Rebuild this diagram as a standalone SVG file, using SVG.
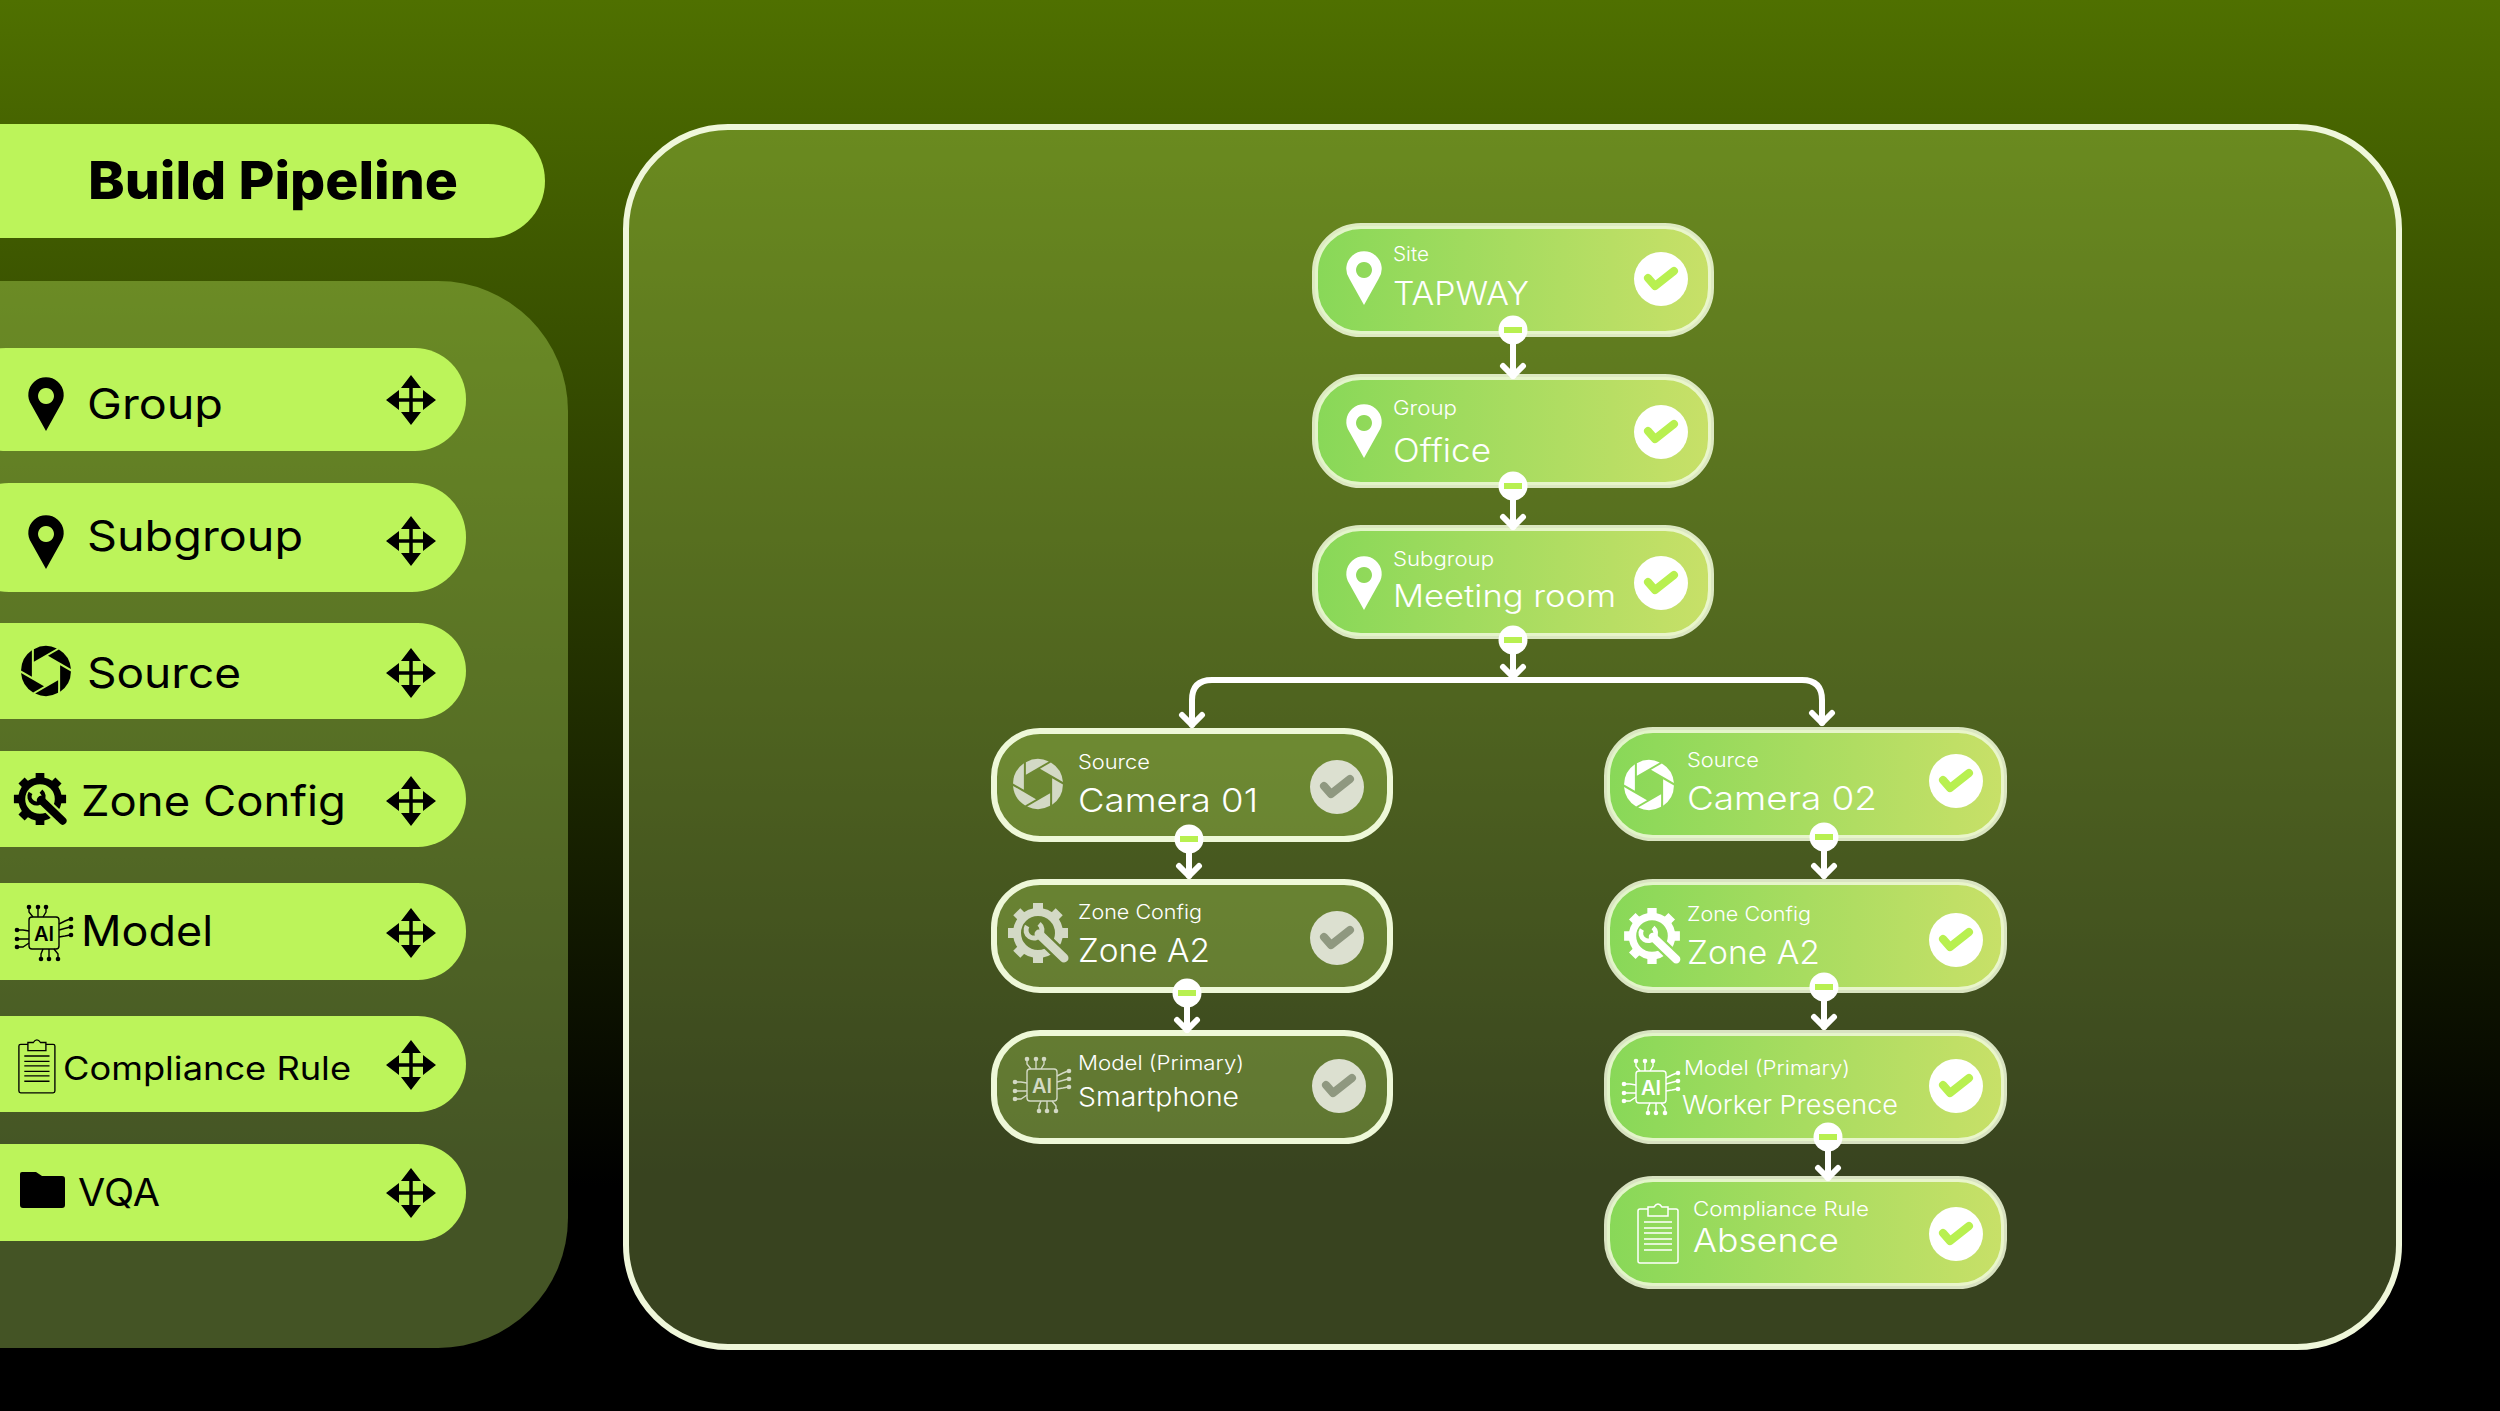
<svg xmlns="http://www.w3.org/2000/svg" width="2500" height="1411" viewBox="0 0 2500 1411">
<style>
text{font-family:Inter,"Liberation Sans",sans-serif;font-weight:300;fill:#fff}
.side{fill:#000;font-weight:400}
.pill{fill:#bcf45a}
.node{stroke:#eef8d8;stroke-width:6}
.on{fill:url(#nodeG);stroke-opacity:.88}
.off{fill:#b8e860;fill-opacity:.3}
.blk{color:#000}
.wht{color:#fff}
.dim{color:#d3d9c5}
.tick{fill:#fff}
.tickoff{fill:#dce0d0}
.chk{fill:none;stroke:#b8f050;stroke-width:8;stroke-linecap:round;stroke-linejoin:round}
.chkoff{fill:none;stroke:#8f9880;stroke-width:8;stroke-linecap:round;stroke-linejoin:round}
.wire{fill:none;stroke:#fff;stroke-width:6;stroke-linecap:round;stroke-linejoin:round;marker-end:url(#arrow)}
.dot{fill:#fff}
.minus{fill:#b8f050}
.ai{font-weight:600;font-size:20px;text-anchor:middle}
</style>
<defs>
<linearGradient id="bg" x1="0" y1="0" x2="0" y2="1"><stop offset="0" stop-color="#4f7000"/><stop offset=".84" stop-color="#000"/></linearGradient>
<linearGradient id="nodeG" x1="0" y1="0" x2="1" y2="0"><stop offset="0" stop-color="#88d858"/><stop offset="1" stop-color="#c8e068"/></linearGradient>
<marker id="arrow" markerUnits="userSpaceOnUse" viewBox="-16 -14 22 28" refX="0" refY="0" markerWidth="22" markerHeight="28" orient="auto"><path d="M-10,-10 L0,0 L-10,10" fill="none" stroke="#fff" stroke-width="6" stroke-linecap="round" stroke-linejoin="round"/></marker>
<g id="move"><path d="M0,-20V20M-20,0H20" stroke="#000" stroke-width="3.5" fill="none"/><path d="M0,-25L10,-12H-10ZM0,25L10,12H-10ZM-25,0L-12,-10V10ZM25,0L12,-10V10Z" fill="#000"/></g>
<path id="pin" fill="currentColor" fill-rule="evenodd" d="M0,53L-14.5,27A17.7,17.7 0 1 1 14.5,27ZM0,10a8,8 0 1 0 .01,0Z"/>
<path id="blade" d="M15.15,2L1.9,24.94A25,25 0 0 0 21.4,12.87Z"/>
<g id="aperture" fill="currentColor" transform="rotate(30)">
<use href="#blade"/>
<use href="#blade" transform="rotate(60)"/>
<use href="#blade" transform="rotate(120)"/>
<use href="#blade" transform="rotate(180)"/>
<use href="#blade" transform="rotate(240)"/>
<use href="#blade" transform="rotate(300)"/>
</g>
<mask id="wm" maskUnits="userSpaceOnUse" x="-40" y="-40" width="80" height="80"><rect x="-40" y="-40" width="80" height="80" fill="#fff"/><path d="M1,1L28,27" stroke="#000" stroke-width="14" fill="none"/></mask>
<g id="gear"><g mask="url(#wm)" fill="currentColor"><circle r="21" fill="none" stroke="currentColor" stroke-width="8"/><path d="M-5,-30H5V-22H-5ZM-5,30H5V22H-5ZM-30,-5V5H-22V-5ZM30,-5V5H22V-5Z"/><path d="M-5,-30H5V-22H-5ZM-5,30H5V22H-5ZM-30,-5V5H-22V-5ZM30,-5V5H22V-5Z" transform="rotate(45)"/></g><path d="M1,1L26,25" stroke="currentColor" stroke-width="9" stroke-linecap="round" fill="none"/><path d="M-10.9,-7A8,8 0 1 0 1.1,-9.1" stroke="currentColor" stroke-width="5" fill="none"/></g>
<g id="chip" fill="none" stroke="currentColor" stroke-width="1.4"><rect x="-15" y="-16" width="30" height="32" rx="3"/><path d="M-15,-25V-21L-11,-16M-6,-25V-16M2,-25V-21L-1,-16M-3,25V21L-1,16M5,25V16M14,25V21L10,16M-26,-3H-21L-15,-2M-26,6H-15M-26,14H-21L-15,10M26,-14L21,-12L15,-9M26,-6L15,-3M26,2L21,3L15,4"/><g fill="currentColor" stroke="none"><circle cx="-15" cy="-26" r="2.3"/><circle cx="-6" cy="-26" r="2.3"/><circle cx="2" cy="-26" r="2.3"/><circle cx="-3" cy="26" r="2.3"/><circle cx="5" cy="26" r="2.3"/><circle cx="14" cy="26" r="2.3"/><circle cx="-27" cy="-3" r="2.3"/><circle cx="-27" cy="6" r="2.3"/><circle cx="-27" cy="14" r="2.3"/><circle cx="27" cy="-14" r="2.3"/><circle cx="27" cy="-6" r="2.3"/><circle cx="27" cy="2" r="2.3"/></g></g>
<g id="clip" fill="none" stroke="currentColor" stroke-width="1.5"><path d="M11,7H3Q1,7 1,9V59Q1,61 3,61H39Q41,61 41,59V9Q41,7 39,7H31"/><path d="M11,14V5H17Q21,-1 25,5H31V14Z"/><path d="M7,20H35M7,26H35M7,31H35M7,37H35M7,42H35M7,48H35"/></g>
<path id="folder" fill="currentColor" d="M2,0H16L22,4H42Q45,4 45,7V33Q45,36 42,36H3Q0,36 0,33V2Q0,0 2,0Z"/>
</defs>
<rect width="2500" height="1411" fill="url(#bg)"/>
<rect id="sidebar" x="-200" y="281" width="768" height="1067" rx="130" fill="#c4f06a" fill-opacity=".35"/>
<g id="title"><rect class="pill" x="-100" y="124" width="645" height="114" rx="57"/><text x="88" y="199" font-size="52" textLength="370" lengthAdjust="spacingAndGlyphs" style="fill:#000;font-weight:800">Build Pipeline</text></g>
<g id="palette-group"><rect class="pill" x="-45" y="348" width="511" height="103" rx="51"/><use href="#pin" class="blk" x="46" y="378"/><text class="side" x="87" y="419" font-size="42" textLength="136" lengthAdjust="spacingAndGlyphs">Group</text><use href="#move" x="411" y="400"/></g>
<g id="palette-subgroup"><rect class="pill" x="-45" y="483" width="511" height="109" rx="54"/><use href="#pin" class="blk" x="46" y="516"/><text class="side" x="87" y="551" font-size="42" textLength="216" lengthAdjust="spacingAndGlyphs">Subgroup</text><use href="#move" x="411" y="541"/></g>
<g id="palette-source"><rect class="pill" x="-45" y="623" width="511" height="96" rx="48"/><use href="#aperture" class="blk" transform="translate(46 671)"/><text class="side" x="87" y="688" font-size="42" textLength="154" lengthAdjust="spacingAndGlyphs">Source</text><use href="#move" x="411" y="673"/></g>
<g id="palette-zone"><rect class="pill" x="-45" y="751" width="511" height="96" rx="48"/><use href="#gear" class="blk" transform="translate(40 799) scale(.87)"/><text class="side" x="81" y="816" font-size="42" textLength="265" lengthAdjust="spacingAndGlyphs">Zone Config</text><use href="#move" x="411" y="801"/></g>
<g id="palette-model"><rect class="pill" x="-45" y="883" width="511" height="97" rx="48"/><use href="#chip" class="blk" x="44" y="933"/><text class="ai" x="44" y="941" style="fill:#000">AI</text><text class="side" x="81" y="946" font-size="42" textLength="132" lengthAdjust="spacingAndGlyphs">Model</text><use href="#move" x="411" y="933"/></g>
<g id="palette-rule"><rect class="pill" x="-45" y="1016" width="511" height="96" rx="48"/><use href="#clip" class="blk" transform="translate(18 1038) scale(.9)"/><text class="side" x="63" y="1080" font-size="32" textLength="288" lengthAdjust="spacingAndGlyphs">Compliance Rule</text><use href="#move" x="411" y="1065"/></g>
<g id="palette-vqa"><rect class="pill" x="-45" y="1144" width="511" height="97" rx="48"/><use href="#folder" class="blk" x="20" y="1172"/><text class="side" x="78" y="1206" font-size="38" textLength="82" lengthAdjust="spacingAndGlyphs">VQA</text><use href="#move" x="411" y="1193"/></g>
<rect id="canvas" x="626" y="127" width="1773" height="1220" rx="102" fill="#c8ef70" fill-opacity=".28" stroke="#eff7da" stroke-width="6"/>
<g id="n-site"><rect class="node on" x="1315" y="226" width="396" height="108" rx="46"/><use href="#pin" class="wht" x="1364" y="252"/><text x="1393" y="261" font-size="20" textLength="36" lengthAdjust="spacingAndGlyphs">Site</text><text x="1393" y="305" font-size="33" textLength="136" lengthAdjust="spacingAndGlyphs">TAPWAY</text><circle class="tick" cx="1661" cy="279" r="27"/><path class="chk" d="M1648,278L1655,286L1674,271"/></g>
<g id="n-group"><rect class="node on" x="1315" y="377" width="396" height="108" rx="46"/><use href="#pin" class="wht" x="1364" y="405"/><text x="1393" y="415" font-size="20" textLength="64" lengthAdjust="spacingAndGlyphs">Group</text><text x="1393" y="462" font-size="32" textLength="98" lengthAdjust="spacingAndGlyphs">Office</text><circle class="tick" cx="1661" cy="432" r="27"/><path class="chk" d="M1648,431L1655,439L1674,424"/></g>
<g id="n-subgroup"><rect class="node on" x="1315" y="528" width="396" height="108" rx="46"/><use href="#pin" class="wht" x="1364" y="557"/><text x="1393" y="566" font-size="20" textLength="101" lengthAdjust="spacingAndGlyphs">Subgroup</text><text x="1393" y="607" font-size="31" textLength="223" lengthAdjust="spacingAndGlyphs">Meeting room</text><circle class="tick" cx="1661" cy="583" r="27"/><path class="chk" d="M1648,582L1655,590L1674,575"/></g>
<g id="n-camera01"><rect class="node off" x="994" y="731" width="396" height="108" rx="46"/><use href="#aperture" class="dim" transform="translate(1038 784)"/><text x="1078" y="769" font-size="20" textLength="72" lengthAdjust="spacingAndGlyphs">Source</text><text x="1078" y="812" font-size="33" textLength="180" lengthAdjust="spacingAndGlyphs">Camera 01</text><circle class="tickoff" cx="1337" cy="787" r="27"/><path class="chkoff" d="M1324,786L1331,794L1350,779"/></g>
<g id="n-zone-left"><rect class="node off" x="994" y="882" width="396" height="108" rx="46"/><use href="#gear" class="dim" transform="translate(1038 933)"/><text x="1078" y="919" font-size="20" textLength="124" lengthAdjust="spacingAndGlyphs">Zone Config</text><text x="1078" y="962" font-size="33" textLength="132" lengthAdjust="spacingAndGlyphs">Zone A2</text><circle class="tickoff" cx="1337" cy="938" r="27"/><path class="chkoff" d="M1324,937L1331,945L1350,930"/></g>
<g id="n-smartphone"><rect class="node off" x="994" y="1033" width="396" height="108" rx="46"/><use href="#chip" class="dim" x="1042" y="1085"/><text class="ai" x="1042" y="1093" style="fill:#d3d9c5">AI</text><text x="1078" y="1070" font-size="20" textLength="166" lengthAdjust="spacingAndGlyphs">Model (Primary)</text><text x="1078" y="1106" font-size="26" textLength="161" lengthAdjust="spacingAndGlyphs">Smartphone</text><circle class="tickoff" cx="1339" cy="1086" r="27"/><path class="chkoff" d="M1326,1085L1333,1093L1352,1078"/></g>
<g id="n-camera02"><rect class="node on" x="1607" y="730" width="397" height="108" rx="46"/><use href="#aperture" class="wht" transform="translate(1649 785)"/><text x="1687" y="767" font-size="20" textLength="72" lengthAdjust="spacingAndGlyphs">Source</text><text x="1687" y="810" font-size="33" textLength="190" lengthAdjust="spacingAndGlyphs">Camera 02</text><circle class="tick" cx="1956" cy="781" r="27"/><path class="chk" d="M1943,780L1950,788L1969,773"/></g>
<g id="n-zone-right"><rect class="node on" x="1607" y="882" width="397" height="108" rx="46"/><use href="#gear" class="wht" transform="translate(1652 936) scale(.93)"/><text x="1687" y="921" font-size="20" textLength="124" lengthAdjust="spacingAndGlyphs">Zone Config</text><text x="1687" y="964" font-size="33" textLength="133" lengthAdjust="spacingAndGlyphs">Zone A2</text><circle class="tick" cx="1956" cy="940" r="27"/><path class="chk" d="M1943,939L1950,947L1969,932"/></g>
<g id="n-worker"><rect class="node on" x="1607" y="1033" width="397" height="108" rx="46"/><use href="#chip" class="wht" x="1651" y="1087"/><text class="ai" x="1651" y="1095">AI</text><text x="1684" y="1075" font-size="20" textLength="166" lengthAdjust="spacingAndGlyphs">Model (Primary)</text><text x="1682" y="1114" font-size="26" textLength="216" lengthAdjust="spacingAndGlyphs">Worker Presence</text><circle class="tick" cx="1956" cy="1086" r="27"/><path class="chk" d="M1943,1085L1950,1093L1969,1078"/></g>
<g id="n-absence"><rect class="node on" x="1607" y="1179" width="397" height="107" rx="46"/><use href="#clip" class="wht" x="1637" y="1202"/><text x="1693" y="1216" font-size="20" textLength="176" lengthAdjust="spacingAndGlyphs">Compliance Rule</text><text x="1693" y="1252" font-size="33" textLength="146" lengthAdjust="spacingAndGlyphs">Absence</text><circle class="tick" cx="1956" cy="1234" r="27"/><path class="chk" d="M1943,1233L1950,1241L1969,1226"/></g>
<g id="connectors">
<path class="wire" d="M1513,330V376"/>
<path class="wire" d="M1513,486V527"/>
<path class="wire" d="M1513,640V677"/>
<path class="wire" d="M1513,680H1212Q1192,680 1192,700V725"/>
<path class="wire" d="M1513,680H1802Q1822,680 1822,700V723"/>
<path class="wire" d="M1189,839V876"/>
<path class="wire" d="M1187,993V1030"/>
<path class="wire" d="M1824,837V876"/>
<path class="wire" d="M1824,987V1027"/>
<path class="wire" d="M1828,1137V1178"/>
<g id="minus-a"><circle class="dot" cx="1513" cy="330" r="14.5"/><rect class="minus" x="1504" y="327" width="18" height="6"/></g>
<g id="minus-b"><circle class="dot" cx="1513" cy="486" r="14.5"/><rect class="minus" x="1504" y="483" width="18" height="6"/></g>
<g id="minus-c"><circle class="dot" cx="1513" cy="640" r="14.5"/><rect class="minus" x="1504" y="637" width="18" height="6"/></g>
<g id="minus-d"><circle class="dot" cx="1189" cy="839" r="14.5"/><rect class="minus" x="1180" y="836" width="18" height="6"/></g>
<g id="minus-e"><circle class="dot" cx="1187" cy="993" r="14.5"/><rect class="minus" x="1178" y="990" width="18" height="6"/></g>
<g id="minus-f"><circle class="dot" cx="1824" cy="837" r="14.5"/><rect class="minus" x="1815" y="834" width="18" height="6"/></g>
<g id="minus-g"><circle class="dot" cx="1824" cy="987" r="14.5"/><rect class="minus" x="1815" y="984" width="18" height="6"/></g>
<g id="minus-h"><circle class="dot" cx="1828" cy="1137" r="14.5"/><rect class="minus" x="1819" y="1134" width="18" height="6"/></g>
</g>
</svg>
